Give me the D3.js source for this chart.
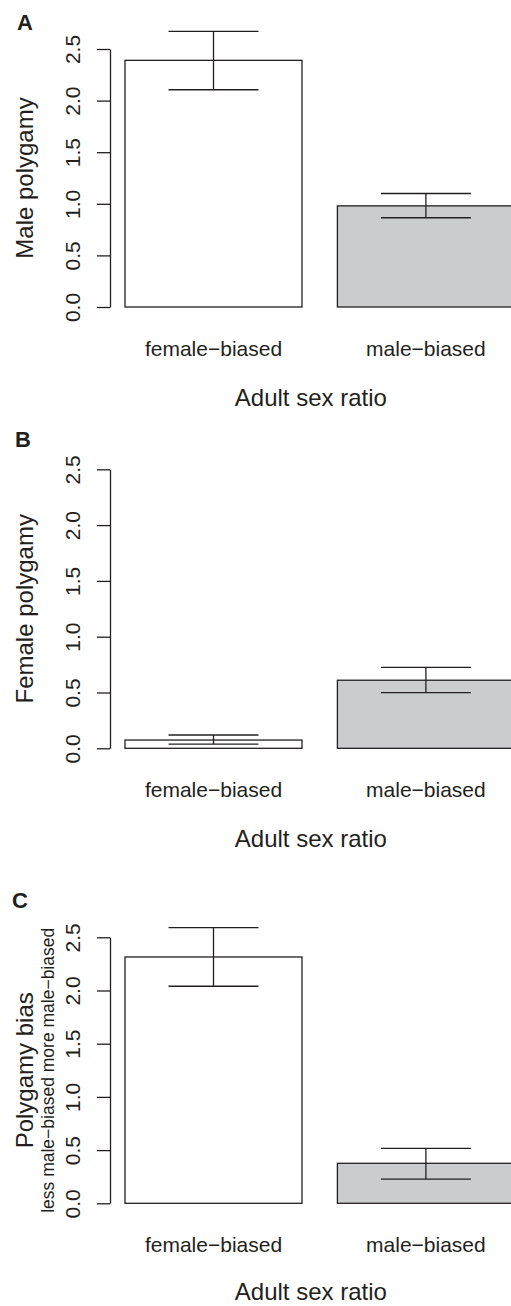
<!DOCTYPE html>
<html>
<head>
<meta charset="utf-8">
<script src="https://cdn.jsdelivr.net/npm/d3@7"></script>
<style>
  body { margin: 0; background: #fff; }
  text { font-family: "Liberation Sans", Arial, Helvetica, sans-serif; fill: #231f20; }
</style>
</head>
<body>
<div id="chart"></div>
<script>
// data
const categories = ["female\u2212biased", "male\u2212biased"]
const yTicks = [0, 0.5, 1, 1.5, 2, 2.5]

const maleMean = [2.39, 0.98]
const maleLower = [2.105, 0.865]
const maleUpper = [2.67, 1.10]

const femaleMean = [0.074, 0.61]
const femaleLower = [0.038, 0.498]
const femaleUpper = [0.119, 0.725]

const biasMean = [2.315, 0.376]
const biasLower = [2.04, 0.228]
const biasUpper = [2.59, 0.517]

const barFill = ["#ffffff", "#cbcccd"]
const ink = "#231f20"

const width = 511, height = 1306

const svg = d3.select("#chart")
    .append("svg")
    .attr("width", width)
    .attr("height", height)

// R barplot: width 1, space 0.2
const x = d3.scaleLinear()
    .domain([0, 2.4])
    .range([89.6, 89.6 + 2.4 * 177])
const barLeft = i => 0.2 + i * 1.2
const barMid = i => barLeft(i) + 0.5

const panels = [
    { letter: "A", letterX: 17, letterY: 30, ylab: "Male polygamy",
      mean: maleMean, lo: maleLower, hi: maleUpper, y0: 307, y1: 49 },
    { letter: "B", letterX: 15, letterY: 447, ylab: "Female polygamy",
      mean: femaleMean, lo: femaleLower, hi: femaleUpper, y0: 748.3, y1: 469.3 },
    { letter: "C", letterX: 12, letterY: 908, ylab: "Polygamy bias",
      sub: "less male\u2212biased  more male\u2212biased",
      mean: biasMean, lo: biasLower, hi: biasUpper, y0: 1203.3, y1: 937.3 }
]

panels.forEach(p => {
    const g = svg.append("g")

    const y = d3.scaleLinear()
        .domain([0, 2.5])
        .range([p.y0, p.y1])

    // bars
    g.selectAll("rect")
        .data(p.mean)
        .join("rect")
        .attr("x", (d, i) => x(barLeft(i)))
        .attr("y", d => y(d))
        .attr("width", (d, i) => x(barLeft(i) + 1) - x(barLeft(i)))
        .attr("height", d => y(0) - y(d))
        .attr("fill", (d, i) => barFill[i])
        .attr("stroke", ink)
        .attr("stroke-width", 1.3)

    // error bars
    const err = g.selectAll(".err")
        .data(p.mean.map((d, i) => ({ i: i, lo: p.lo[i], hi: p.hi[i] })))
        .join("g")
        .attr("class", "err")
        .attr("stroke", ink)
        .attr("stroke-width", 1.3)

    err.append("line")
        .attr("x1", d => x(barMid(d.i)))
        .attr("x2", d => x(barMid(d.i)))
        .attr("y1", d => y(d.lo))
        .attr("y2", d => y(d.hi))
    err.append("line")
        .attr("x1", d => x(barMid(d.i) - 0.254))
        .attr("x2", d => x(barMid(d.i) + 0.254))
        .attr("y1", d => y(d.hi))
        .attr("y2", d => y(d.hi))
    err.append("line")
        .attr("x1", d => x(barMid(d.i) - 0.254))
        .attr("x2", d => x(barMid(d.i) + 0.254))
        .attr("y1", d => y(d.lo))
        .attr("y2", d => y(d.lo))

    // y axis
    const yAxis = g.append("g")
        .attr("transform", "translate(110,0)")
        .call(d3.axisLeft(y)
            .tickValues(yTicks)
            .tickFormat(d3.format(".1f"))
            .tickSize(13)
            .tickSizeOuter(0))
    yAxis.select(".domain").attr("stroke", ink).attr("stroke-width", 1.3)
    yAxis.selectAll(".tick line").attr("stroke", ink).attr("stroke-width", 1.3)
    yAxis.selectAll(".tick text")
        .attr("transform", "rotate(-90)")
        .attr("x", 0)
        .attr("y", -30)
        .attr("dy", 0)
        .attr("text-anchor", "middle")
        .attr("fill", ink)
        .style("font-size", "21px")
        .style("font-family", "'Liberation Sans', Arial, sans-serif")

    const yMid = (p.y0 + p.y1) / 2

    g.append("text")
        .attr("transform", `translate(33,${yMid}) rotate(-90)`)
        .attr("text-anchor", "middle")
        .style("font-size", "24px")
        .text(p.ylab)

    if (p.sub) {
        g.append("text")
            .attr("transform", `translate(54,${yMid}) rotate(-90)`)
            .attr("text-anchor", "middle")
            .style("font-size", "17.5px")
            .text(p.sub)
    }

    // x category labels
    g.selectAll(".cat")
        .data(categories)
        .join("text")
        .attr("class", "cat")
        .attr("x", (d, i) => x(barMid(i)))
        .attr("y", p.y0 + 49)
        .attr("text-anchor", "middle")
        .style("font-size", "21px")
        .text(d => d)

    g.append("text")
        .attr("x", x(1.25))
        .attr("y", Math.min(p.y0 + 99, height - 6))
        .attr("text-anchor", "middle")
        .style("font-size", "24px")
        .text("Adult sex ratio")

    g.append("text")
        .attr("x", p.letterX)
        .attr("y", p.letterY)
        .style("font-size", "22px")
        .style("font-weight", "bold")
        .text(p.letter)
})
</script>
</body>
</html>
